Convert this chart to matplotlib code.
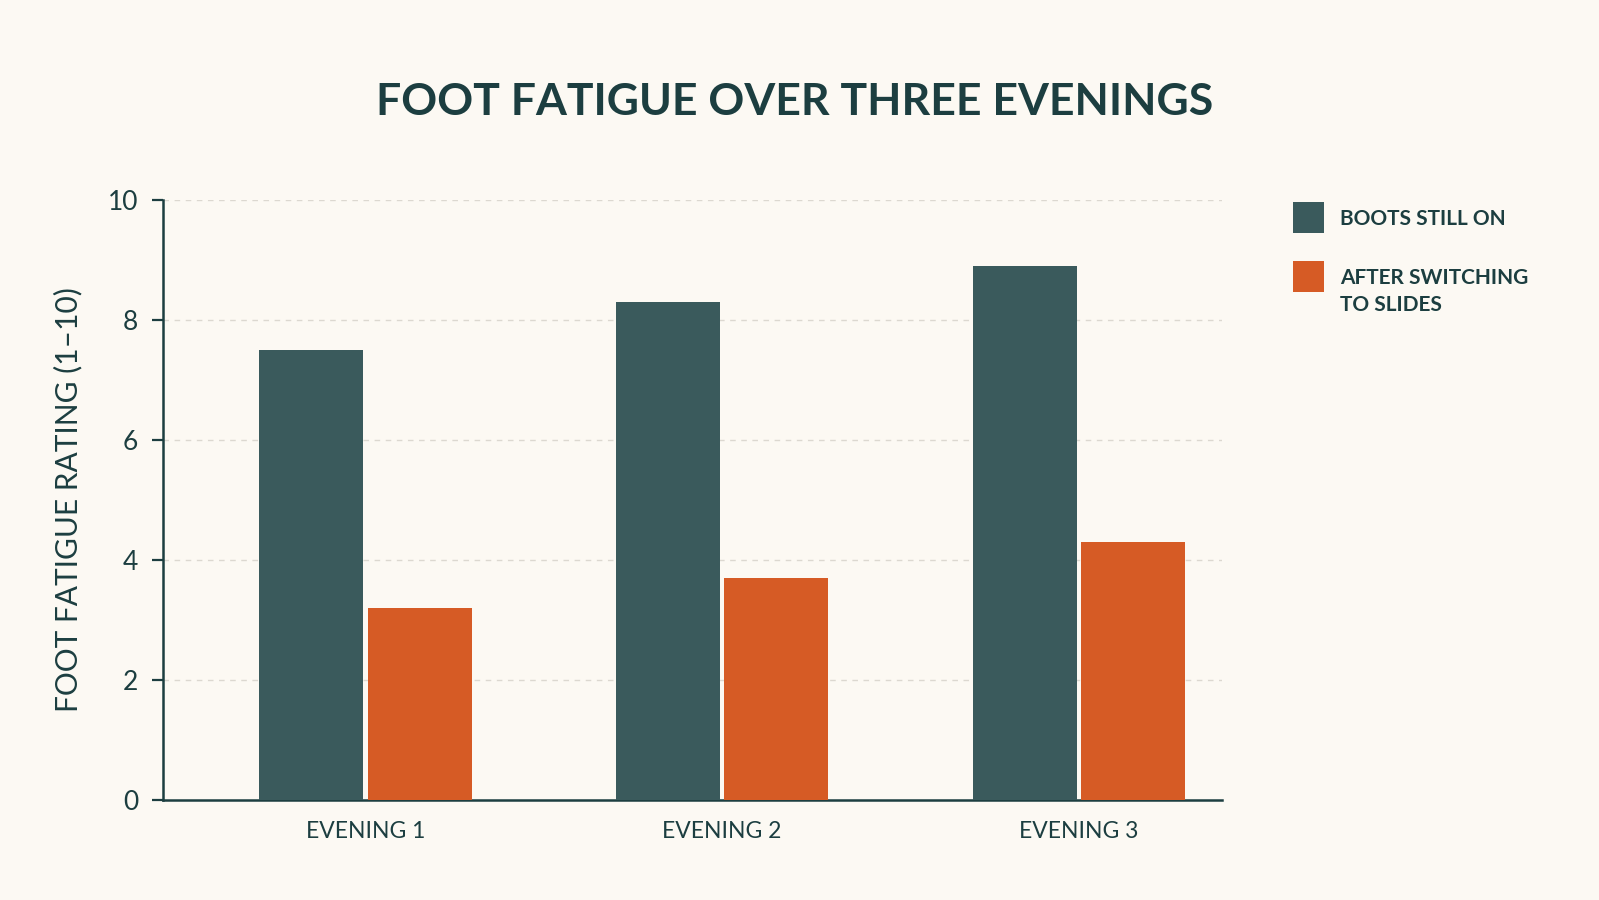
import matplotlib
matplotlib.use("Agg")
import matplotlib.pyplot as plt
import numpy as np
from matplotlib.patches import Rectangle

categories = ["EVENING 1", "EVENING 2", "EVENING 3"]
boots_on = [7.5, 8.3, 8.9]
after_slides = [3.2, 3.7, 4.3]
series_labels = ["BOOTS STILL ON", "AFTER SWITCHING\nTO SLIDES"]
yticks = [0, 2, 4, 6, 8, 10]

BG = "#FCF9F3"
DARK = "#3A5A5C"
ORANGE = "#D65B25"
TEXT = "#1C3E40"
GRID = "#DCD8D0"

plt.rcParams['font.family'] = ['Lato', 'DejaVu Sans']

W, H = 1599, 900
fig = plt.figure(figsize=(W / 100, H / 100), dpi=100, facecolor=BG)
ax = fig.add_axes([0.102, 0.111, 0.662, 0.667], facecolor=BG)

x = np.arange(len(categories))
w = 0.292
off = 0.152
ax.bar(x - off, boots_on, width=w, color=DARK, zorder=3)
ax.bar(x + off, after_slides, width=w, color=ORANGE, zorder=3)

ax.set_xlim(-0.567, 2.40)
ax.set_ylim(0, 10)
ax.set_yticks(yticks)
ax.set_yticklabels([str(t) for t in yticks], fontsize=19, color=TEXT)
ax.set_xticks(x)
ax.set_xticklabels(categories, fontsize=16.5, color=TEXT)
ax.tick_params(axis='x', length=0, pad=15)
ax.tick_params(axis='y', length=8, width=1.6, color=TEXT, pad=10, direction='out')

for s in ['top', 'right']:
    ax.spines[s].set_visible(False)
for s in ['left', 'bottom']:
    ax.spines[s].set_color(TEXT)
    ax.spines[s].set_linewidth(1.8)

for t in yticks[1:]:
    ax.axhline(t, color=GRID, linestyle=(0, (4, 4)), linewidth=1.0, zorder=1)

ax.set_ylabel("FOOT FATIGUE RATING (1–10)", fontsize=21.5, color=TEXT, labelpad=18)

fig.text(0.497, 0.887, "FOOT FATIGUE OVER THREE EVENINGS", ha='center', va='center',
         fontsize=32, fontweight='bold', color=TEXT)

# legend (figure pixel coordinates, origin top-left)
colors = [DARK, ORANGE]
sq_tops = [202, 261]
sq = 31
for lab, col, top in zip(series_labels, colors, sq_tops):
    fig.add_artist(Rectangle((1293 / W, 1 - (top + sq) / H), sq / W, sq / H,
                             transform=fig.transFigure, facecolor=col, edgecolor='none'))
    fig.text(1340 / W, 1 - (top + sq / 2 - 8.5) / H, lab, ha='left', va='top',
             fontsize=15, fontweight='bold', color=TEXT, linespacing=1.45)

fig.savefig("out.png", dpi=100, facecolor=BG)
